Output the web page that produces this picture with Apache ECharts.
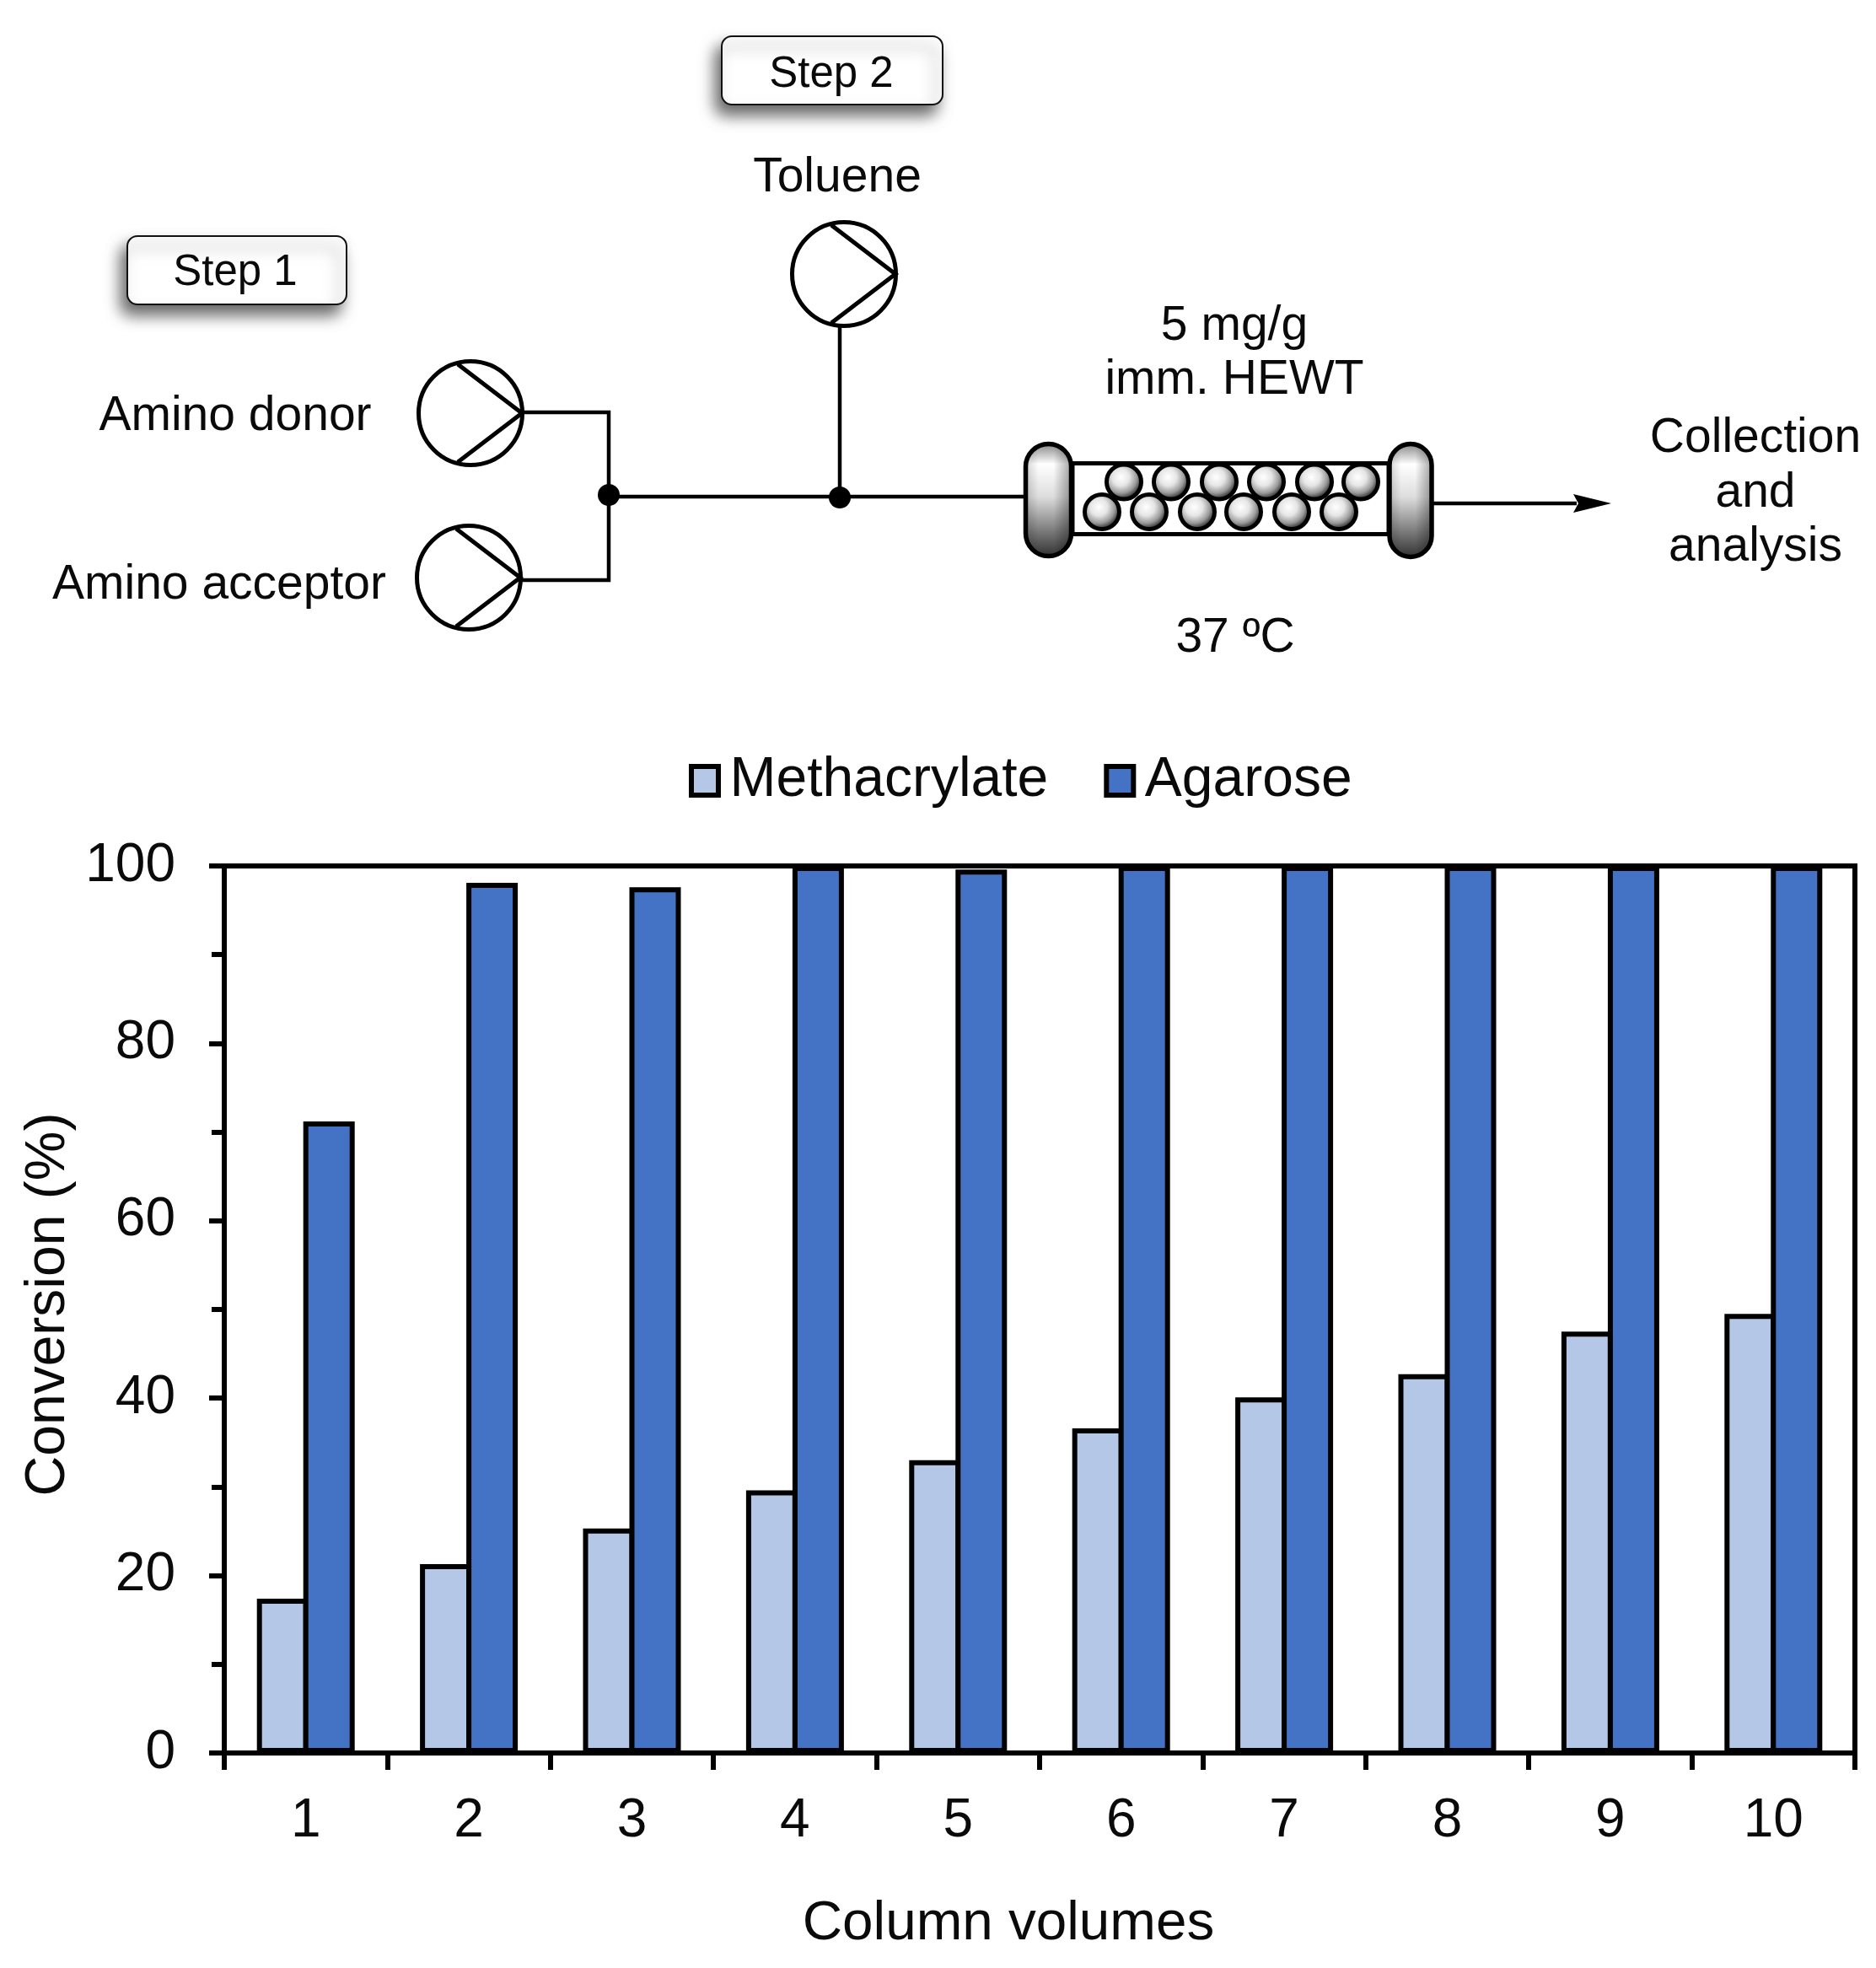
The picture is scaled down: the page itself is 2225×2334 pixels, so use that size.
<!DOCTYPE html>
<html><head><meta charset="utf-8">
<style>html,body{margin:0;padding:0;background:#fff}#c{width:2225px;height:2334px}</style>
<script src="https://cdn.jsdelivr.net/npm/echarts@6/dist/echarts.min.js"></script>
</head><body><div id="c"></div>
<script>
const categories = ['1','2','3','4','5','6','7','8','9','10'];
const methacrylate = [17.4,21.3,25.3,29.6,33.0,36.6,40.1,42.7,47.5,49.5];
const agarose = [71.2,98.1,97.6,100,99.6,100,100,100,100,100];
const FONT = '"Liberation Sans", Arial, sans-serif';
const BLACK = '#000';
const chart = echarts.init(document.getElementById('c'), null, {renderer:'canvas', width:2225, height:2334});

function txt(s, x, y, size){
  return {type:'text', z:50, style:{text:s, x, y, fill:'#0a0a0a', font:size+'px '+FONT, align:'center', verticalAlign:'middle'}};
}
function line(pts, w){
  return {type:'polyline', z:20, shape:{points:pts}, style:{stroke:BLACK, lineWidth:w||4.5, fill:null, lineJoin:'miter'}};
}
function pump(x, y){
  return [
    {type:'circle', z:22, shape:{cx:x, cy:y, r:61.5}, style:{fill:'#fff', stroke:BLACK, lineWidth:5}},
    {type:'polyline', z:23, shape:{points:[[x-15,y-58],[x+61,y],[x-15,y+58]]}, style:{stroke:BLACK, lineWidth:5, fill:null}}
  ];
}
function box(x, y, w, h){
  return {type:'rect', z:10, shape:{x, y, width:w, height:h, r:12},
    style:{fill:'#fff', stroke:'#111', lineWidth:2, shadowColor:'rgba(0,0,0,0.6)', shadowBlur:18, shadowOffsetX:-7, shadowOffsetY:12}};
}
function dot(x, y){
  return {type:'circle', z:24, shape:{cx:x, cy:y, r:13}, style:{fill:BLACK}};
}
function cap(x, y, w, h){
  return [
    {type:'rect', z:30, shape:{x, y, width:w, height:h, r:w/2},
     style:{fill:new echarts.graphic.LinearGradient(0,0,0,1,[
      {offset:0,color:'#888'},{offset:0.18,color:'#fff'},{offset:0.47,color:'#ddd'},{offset:0.63,color:'#aaa'},{offset:0.84,color:'#666'},{offset:1,color:'#333'}])}},
    {type:'rect', z:31, shape:{x, y, width:w, height:h, r:w/2},
     style:{stroke:BLACK, lineWidth:5.5, fill:new echarts.graphic.LinearGradient(0,0,1,0,[
      {offset:0,color:'rgba(0,0,0,0.2)'},{offset:0.3,color:'rgba(0,0,0,0)'},{offset:0.6,color:'rgba(0,0,0,0)'},{offset:1,color:'rgba(0,0,0,0.4)'}])}}
  ];
}
function bead(x, y, z){
  return {type:'circle', z, shape:{cx:x, cy:y, r:20.5},
    style:{stroke:BLACK, lineWidth:5, fill:new echarts.graphic.RadialGradient(0.42,0.38,0.55,[
      {offset:0,color:'#fff'},{offset:0.4,color:'#e6e6e6'},{offset:0.75,color:'#999'},{offset:1,color:'#333'}])}};
}
const beadsTop = [1333,1389,1446,1502,1559,1614];
const beadsBottom = [1307,1363,1420,1475,1532,1588];

const schematic = [
  box(151,280,260,81), box(856,43,262,81),
  txt('Step 1',279,324,51), txt('Step 2',986,89,51),
  txt('Toluene',993,211,57),
  txt('Amino donor',279,494,57), txt('Amino acceptor',260,694,57),
  txt('5 mg/g',1464,387,57), txt('imm. HEWT',1464,451,57),
  txt('37 ºC',1465,757,57),
  txt('Collection',2082,520,57), txt('and',2082,585,57), txt('analysis',2082,649,57),
  line([[621,489],[722,489],[722,688],[618,688]]),
  line([[722,589],[1218,589]]),
  line([[996,386],[996,589]]),
  line([[1699,597],[1870,597]]),
  {type:'polygon', z:21, shape:{points:[[1866,586],[1911,597],[1866,608],[1872,597]]}, style:{fill:BLACK}},
  ...pump(558,490), ...pump(556,685), ...pump(1001,325),
  dot(722,587), dot(996,590),
  {type:'rect', z:25, shape:{x:1272,y:549.5,width:375,height:84}, style:{fill:'#fff',stroke:BLACK,lineWidth:5}},
  ...beadsTop.map(x=>bead(x,571.5,26)), ...beadsBottom.map(x=>bead(x,607,27)),
  ...cap(1216.5,526.5,54,133), ...cap(1648,526.5,50,134)
];

chart.setOption({
  animation:false,
  backgroundColor:'#fff',
  textStyle:{fontFamily:FONT},
  grid:{left:266, top:1027, width:1934, height:1052, show:true, borderColor:BLACK, borderWidth:6, backgroundColor:'transparent', containLabel:false, outerBoundsMode:'none'},
  legend:{left:812, top:888, itemWidth:32, itemHeight:34, itemGap:66, icon:'rect', selectedMode:false,
    itemStyle:{borderColor:BLACK,borderWidth:6},
    textStyle:{fontSize:66, color:'#0a0a0a', fontFamily:FONT, padding:[0,0,0,8.5]},
    data:['Methacrylate','Agarose']},
  xAxis:{type:'category', data:categories, boundaryGap:true,
    name:'Column volumes', nameLocation:'middle', nameGap:170,
    nameTextStyle:{fontSize:65.6, color:'#0a0a0a', fontFamily:FONT, padding:[0,74,0,0]},
    axisLine:{lineStyle:{color:BLACK,width:6}}, axisTick:{show:true,alignWithLabel:false,length:20,lineStyle:{color:BLACK,width:6}},
    axisLabel:{fontSize:64,color:'#0a0a0a',fontFamily:FONT,margin:49,interval:0}},
  yAxis:{type:'value', min:0, max:100, interval:20,
    name:'Conversion (%)', nameLocation:'middle', nameGap:167,
    nameTextStyle:{fontSize:66, color:'#0a0a0a', fontFamily:FONT, padding:[0,0,0,12]},
    axisLine:{show:true,lineStyle:{color:BLACK,width:6}},
    axisTick:{show:true,length:18,lineStyle:{color:BLACK,width:6}},
    minorTick:{show:true,splitNumber:2,length:15,lineStyle:{color:BLACK,width:6}},
    splitLine:{show:false}, minorSplitLine:{show:false},
    axisLabel:{fontSize:64,color:'#0a0a0a',fontFamily:FONT,margin:58,padding:[6,0,0,0]}},
  series:[
    {name:'Methacrylate', type:'bar', data:methacrylate, barWidth:61, barGap:'-9.84%',
     itemStyle:{color:'#B4C7E7',borderColor:BLACK,borderWidth:6}},
    {name:'Agarose', type:'bar', data:agarose, barWidth:61, barGap:'-9.84%',
     itemStyle:{color:'#4472C4',borderColor:BLACK,borderWidth:6}}
  ],
  graphic:{elements:schematic}
});
</script></body></html>
